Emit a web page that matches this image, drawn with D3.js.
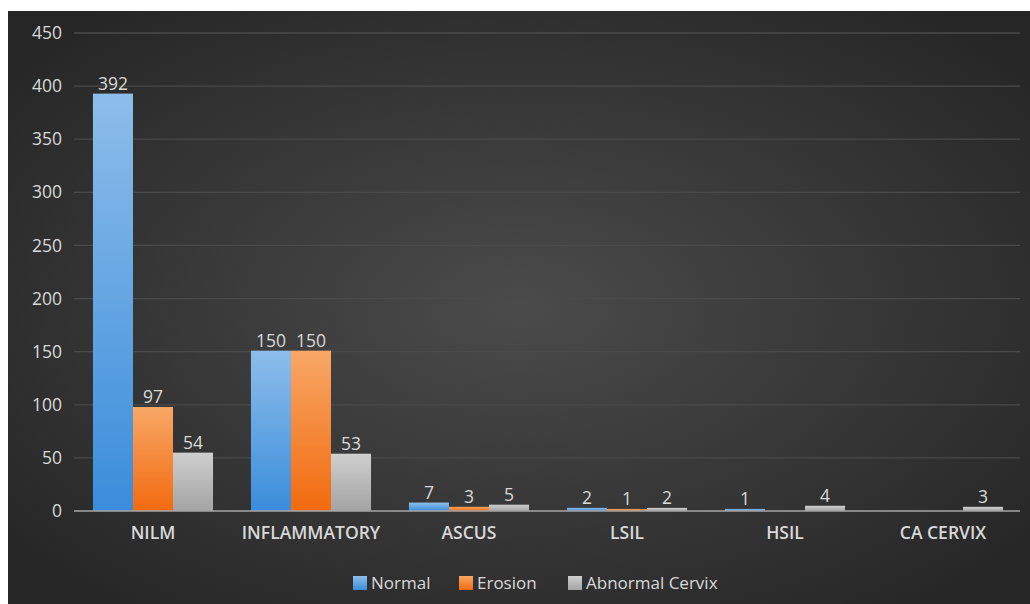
<!DOCTYPE html>
<html>
<head>
<meta charset="utf-8">
<script src="https://cdn.jsdelivr.net/npm/d3@7"></script>
<style>
  html, body { margin: 0; padding: 0; background: #fff; }
  svg { display: block; font-family: "Open Sans", "Noto Sans", sans-serif; }
</style>
</head>
<body>
<div class="vis-bars"></div>
<script>
// data
const categories = ['NILM', 'INFLAMMATORY', 'ASCUS', 'LSIL', 'HSIL', 'CA CERVIX'];
const seriesNames = ['Normal', 'Erosion', 'Abnormal Cervix'];
const normal = [392, 150, 7, 2, 1, 0];
const erosion = [97, 150, 3, 1, 0, 0];
const abnormal = [54, 53, 5, 2, 4, 3];
const yTicks = [0, 50, 100, 150, 200, 250, 300, 350, 400, 450];

const width = 1030;
const height = 604;
const seriesValues = [normal, erosion, abnormal];
const colors = [
  ['#8dbdea', '#3a8ddb'],
  ['#f8a766', '#f26a0f'],
  ['#cfcfcf', '#a3a3a3']
];

const svg = d3.select('.vis-bars').append('svg')
  .attr('width', width).attr('height', height);

const defs = svg.append('defs');
const bg = defs.append('radialGradient').attr('id', 'bg')
  .attr('cx', '0.5').attr('cy', '0.5').attr('r', '0.65');
bg.append('stop').attr('offset', '0%').attr('stop-color', '#4b4b4b');
bg.append('stop').attr('offset', '100%').attr('stop-color', '#262626');

colors.forEach((c, i) => {
  const g = defs.append('linearGradient').attr('id', 'g' + i)
    .attr('x1', 0).attr('y1', 0).attr('x2', 0).attr('y2', 1);
  g.append('stop').attr('offset', '0%').attr('stop-color', c[0]);
  g.append('stop').attr('offset', '100%').attr('stop-color', c[1]);
});

// background panel
svg.append('rect')
  .attr('x', 8).attr('y', 11)
  .attr('width', width - 8).attr('height', height - 11)
  .attr('fill', 'url(#bg)');

// scales
const x0 = d3.scaleBand().domain(categories).range([74, 1022])
  .paddingInner(0.24).paddingOuter(0.12);
const x1 = d3.scaleBand().domain(seriesNames).range([0, x0.bandwidth()]);
const y = d3.scaleLinear().domain([0, 450]).range([511, 33]);

// grid lines
svg.append('g')
  .selectAll('line')
  .data(yTicks.filter(d => d > 0))
  .enter().append('line')
  .attr('x1', 74).attr('x2', 1020)
  .attr('y1', d => y(d)).attr('y2', d => y(d))
  .attr('stroke', '#4a4a4a').attr('stroke-width', 1.3);

// y axis labels
const yAxis = d3.axisLeft(y).tickValues(yTicks).tickSize(0).tickPadding(12);
svg.append('g')
  .attr('transform', 'translate(74,0)')
  .call(yAxis)
  .call(g => g.select('.domain').remove())
  .selectAll('text')
  .attr('fill', '#d9d9d9')
  .attr('font-size', '17.5px')
  .attr('font-family', '"Open Sans", sans-serif');

// bars
const groups = svg.append('g').selectAll('g')
  .data(categories)
  .enter().append('g')
  .attr('transform', d => 'translate(' + x0(d) + ',0)');

groups.selectAll('rect')
  .data((d, ci) => seriesNames.map((s, si) => ({ s: s, si: si, v: seriesValues[si][ci] })))
  .enter().append('rect')
  .attr('x', d => x1(d.s))
  .attr('width', x1.bandwidth())
  .attr('y', d => y(d.v) - (d.v > 0 ? 1 : 0))
  .attr('height', d => y(0) - y(d.v) + (d.v > 0 ? 1 : 0))
  .attr('fill', d => 'url(#g' + d.si + ')');

groups.selectAll('text')
  .data((d, ci) => seriesNames.map((s, si) => ({ s: s, si: si, v: seriesValues[si][ci] })))
  .enter().filter(d => d.v > 0).append('text')
  .attr('x', d => x1(d.s) + x1.bandwidth() / 2)
  .attr('y', d => y(d.v) - 5)
  .attr('text-anchor', 'middle')
  .attr('fill', '#d9d9d9')
  .attr('font-size', '17.5px')
  .text(d => d.v);

// baseline
svg.append('line')
  .attr('x1', 74).attr('x2', 1020)
  .attr('y1', y(0)).attr('y2', y(0))
  .attr('stroke', '#a6a6a6').attr('stroke-width', 1.5);

// category labels
const xAxis = d3.axisBottom(x0).tickSize(0).tickPadding(16);
svg.append('g')
  .attr('transform', 'translate(0,' + y(0) + ')')
  .call(xAxis)
  .call(g => g.select('.domain').remove())
  .selectAll('text')
  .attr('fill', '#d9d9d9')
  .attr('font-size', '17.5px')
  .attr('font-weight', 600)
  .attr('font-family', '"Open Sans", sans-serif');

// legend
const legendX = [353, 459, 568];
const legend = svg.append('g').selectAll('g')
  .data(seriesNames)
  .enter().append('g')
  .attr('transform', (d, i) => 'translate(' + legendX[i] + ',576)');
legend.append('rect')
  .attr('width', 14).attr('height', 14)
  .attr('fill', (d, i) => 'url(#g' + i + ')');
legend.append('text')
  .attr('x', 18).attr('y', 13)
  .attr('fill', '#d9d9d9')
  .attr('font-size', '17px')
  .text(d => d);
</script>
</body>
</html>
